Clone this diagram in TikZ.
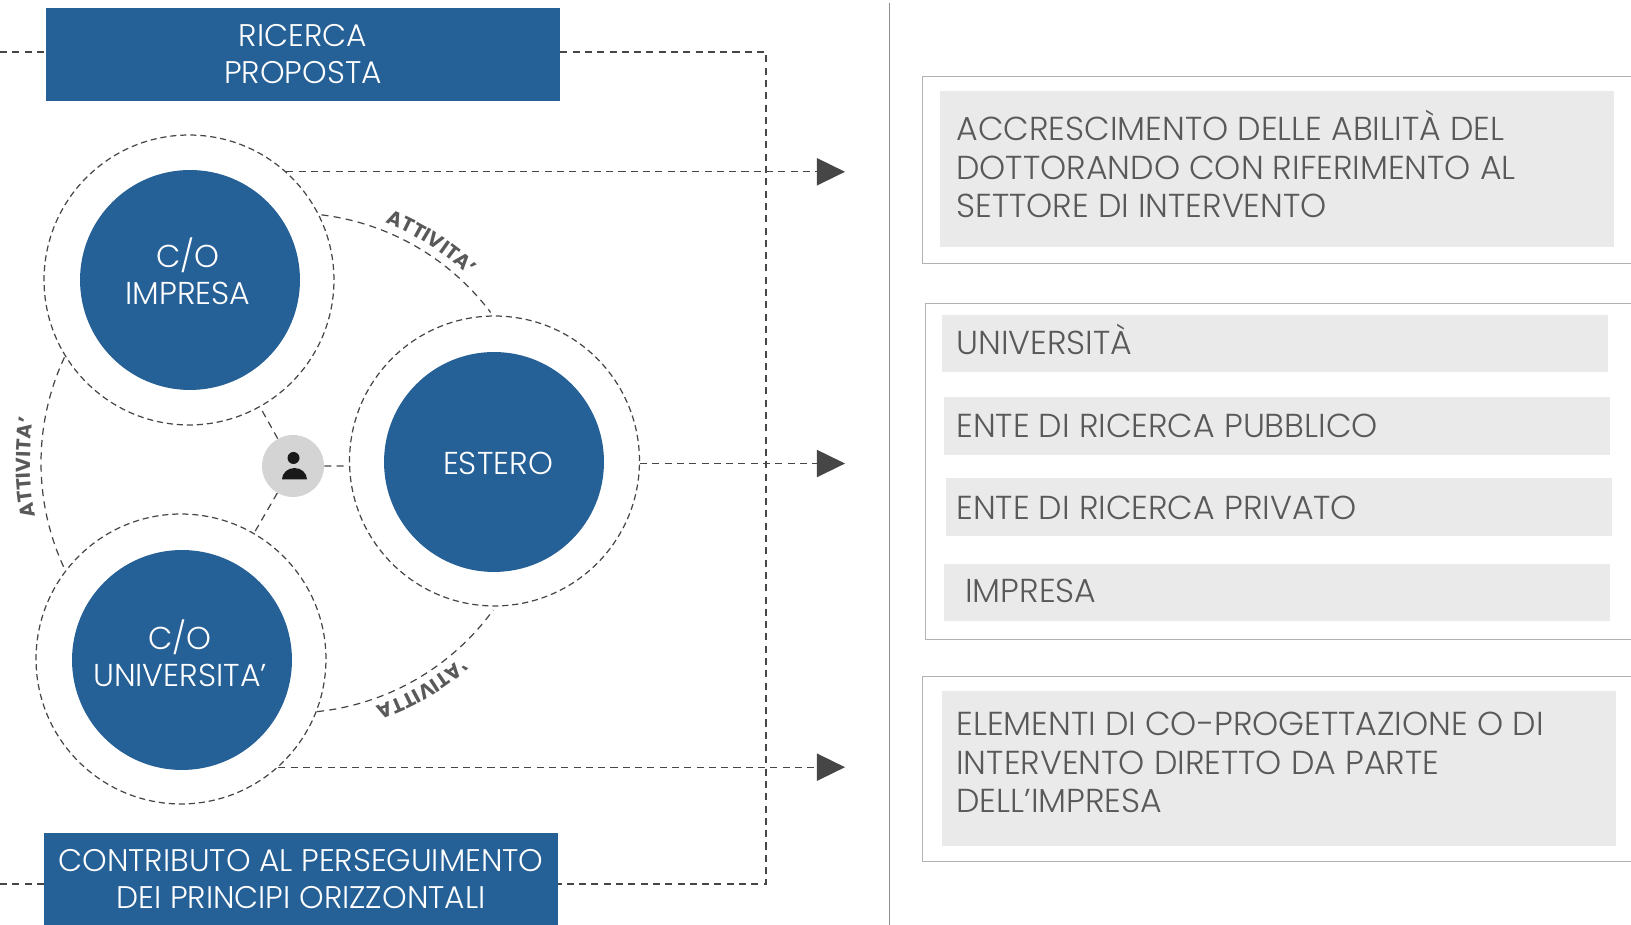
\documentclass[tikz,border=0pt]{standalone}
\usepackage{fontspec}
\setmainfont{Poppins}[UprightFont=* Light,BoldFont=* Bold]
\usepackage{tikz}
\usetikzlibrary{positioning,arrows.meta,calc,decorations.text}
\definecolor{bluefill}{RGB}{37,96,150}
\definecolor{greyfill}{RGB}{234,234,234}
\definecolor{greytext}{RGB}{89,89,89}
\definecolor{linegrey}{RGB}{70,70,70}
\tikzset{
	ring/.style={circle,draw=linegrey,line width=0.7pt,dash pattern=on 3.5pt off 2.2pt,minimum size=5.8cm,inner sep=0pt},
	disc/.style={circle,fill=bluefill,minimum size=4.4cm,inner sep=0pt},
	bluebox/.style={rectangle,fill=bluefill,minimum width=10.28cm,minimum height=1.86cm,inner sep=0pt,text=white,align=center,font=\fontsize{17.8}{21}\selectfont},
	disctext/.style={text=white,align=center,font=\fontsize{18}{21}\selectfont},
	greytxt/.style={anchor=west,inner sep=0pt,text=greytext,align=left,font=\fontsize{18.9}{21.8}\selectfont},
	dashlink/.style={draw=linegrey,line width=0.7pt,dash pattern=on 4pt off 3pt},
	frame/.style={draw=black!30,line width=0.5pt},
	arctext/.style={decorate,decoration={text along path,text align=center,text color=greytext,
			text={|\fontsize{11.5}{13}\bfseries\selectfont|ATTIVITA'}}}
}
\begin{document}
\begin{tikzpicture}[x=0.02cm,y=0.02cm]
\useasboundingbox (0,0) rectangle (1631,925);

% blue boxes
\node[bluebox] (boxTop) at (303,870.5) {RICERCA\\PROPOSTA};
\node[bluebox] (boxBot) at (301,46) {CONTRIBUTO AL PERSEGUIMENTO\\DEI PRINCIPI ORIZZONTALI};

% circles
\node[disc] (discI) at (190,645) {};
\node[disc] (discE) at (494,463) {};
\node[disc] (discU) at (182,265) {};
\node[ring] (ringI) at (189,645) {};
\node[ring] (ringE) at (494.5,464) {};
\node[ring] (ringU) at (181,266) {};
\draw (188,654) node[disctext] (labI) {C/O\\IMPRESA};
\draw (498,462) node[disctext] (labE) {ESTERO};
\draw (180,272) node[disctext] (labU) {C/O\\UNIVERSITA'};

% person
\node[circle,fill=black!17,minimum size=1.24cm,inner sep=0pt] (person) at (293,459) {};
\fill[black!90] (293.5,467) circle (6);
\fill[black!90] (282,445.5) arc (180:0:12.5 and 11.5) -- cycle;
\draw[dashlink] (person) -- (ringI);
\draw[dashlink] (person) -- (ringU);
\draw[dashlink] (person.east) -- (ringE.182);

% big arcs
\coordinate (hub) at (291,462);
\draw[dashlink] ($(hub)+(83:250)$) arc (83:37:250);
\draw[dashlink] ($(hub)+(155:250)$) arc (155:205.7:250);
\draw[dashlink] ($(hub)+(-84:250)$) arc (-84:-36:250);
\path[arctext] ($(hub)+(85:258)$) arc (85:30:258);
\path[arctext] ($(hub)+(206:261)$) arc (206:156:261);
\begin{scope}[transform canvas={shift={(0,924)},yscale=-1}]
\path[arctext] ($(hub)+(87:258)$) arc (87:33:258);
\end{scope}

% dashed lines
\coordinate (turnTop) at (766,873);
\coordinate (turnBot) at (766,41);
\coordinate (leftTop) at (0,873);
\coordinate (leftBot) at (0,41);
\coordinate (tipX) at (845,0);
\draw[dashlink] (turnTop -| boxTop.east) -- (turnTop) -- (turnBot) -- (turnBot -| boxBot.east);
\draw[dashlink] (leftTop) -- (leftTop -| boxTop.west);
\draw[dashlink] (leftBot) -- (leftBot -| boxBot.west);
\foreach \a in {ringI.48.5,ringE.-1,ringU.-48.5}{
	\draw[dashlink,-{Triangle[length=16pt,width=15.5pt]}] (\a) -- (\a -| tipX);
}

% separator
\draw[black!45,line width=0.7pt] (889.7,922) -- (889.7,-2);

% right frames
\draw[frame] (1650,849) -- (922,849) -- (922,662) -- (1650,662);
\draw[frame] (1650,622) -- (925,622) -- (925,286) -- (1650,286);
\draw[frame] (1650,249) -- (922.5,249) -- (922.5,64) -- (1650,64);
\fill[greyfill] (940,678) rectangle (1614,834);
\fill[greyfill] (942,553) rectangle (1608,610);
\fill[greyfill] (944,470) rectangle (1610,528);
\fill[greyfill] (945.5,389) rectangle (1612,447);
\fill[greyfill] (944,304) rectangle (1610,361);
\fill[greyfill] (942,79) rectangle (1616,234);

\draw (956,761) node[greytxt] (txtA) {ACCRESCIMENTO DELLE ABILITÀ DEL\\DOTTORANDO CON RIFERIMENTO AL\\SETTORE DI INTERVENTO};
\draw (956,586) node[greytxt] (txtB) {UNIVERSITÀ};
\draw (956,499.5) node[greytxt] (txtC) {ENTE DI RICERCA PUBBLICO};
\draw (956,417.4) node[greytxt] (txtD) {ENTE DI RICERCA PRIVATO};
\draw (965,334) node[greytxt] (txtE) {IMPRESA};
\draw (956,162.5) node[greytxt] (txtF) {ELEMENTI DI CO-PROGETTAZIONE O DI\\INTERVENTO DIRETTO DA PARTE\\DELL’IMPRESA};

\end{tikzpicture}
\end{document}
